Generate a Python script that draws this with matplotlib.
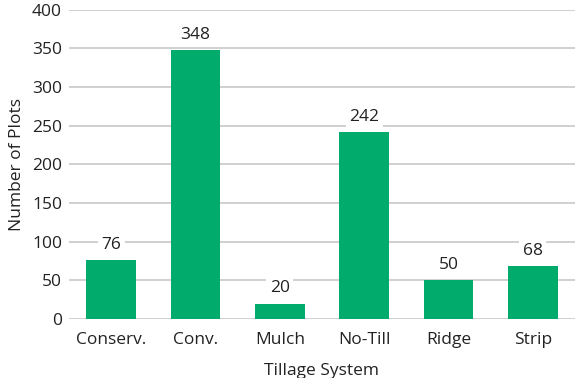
import matplotlib.pyplot as plt

systems = ["Conserv.", "Conv.", "Mulch", "No-Till", "Ridge", "Strip"]
plots = [76, 348, 20, 242, 50, 68]
yticks = [0, 50, 100, 150, 200, 250, 300, 350, 400]

plt.rcParams['font.family'] = ['Open Sans', 'DejaVu Sans']
fs = 12.5

fig = plt.figure(figsize=(5.75, 3.78), dpi=100)
ax = fig.add_axes([0.12, 0.156, 0.88, 0.818])

x = list(range(len(systems)))
ax.bar(x, plots, width=0.59, color='#00ab6b', zorder=3)

for xi, v in zip(x, plots):
    ax.annotate(str(v), (xi, v), xytext=(0, 11), textcoords='offset points',
                ha='center', va='center', fontsize=fs, color='#222222',
                bbox=dict(boxstyle='square,pad=0.2', fc='white', ec='none'),
                zorder=4)

ax.set_xlim(-0.5, len(systems) - 0.5)
ax.set_ylim(0, 400)
ax.set_yticks(yticks)
ax.set_xticks(x)
ax.set_xticklabels(systems)
ax.tick_params(axis='y', length=0, labelsize=fs, colors='#222222', pad=5)
ax.tick_params(axis='x', length=0, labelsize=fs, colors='#222222', pad=9)
ax.grid(axis='y', color='#c8c8c8', linewidth=1.2, zorder=0)
for s in ax.spines.values():
    s.set_visible(False)

ax.set_xlabel('Tillage System', fontsize=fs, color='#222222', labelpad=11)
ax.set_ylabel('Number of Plots', fontsize=fs, color='#222222', labelpad=5)

fig.savefig('out.png', dpi=100)
